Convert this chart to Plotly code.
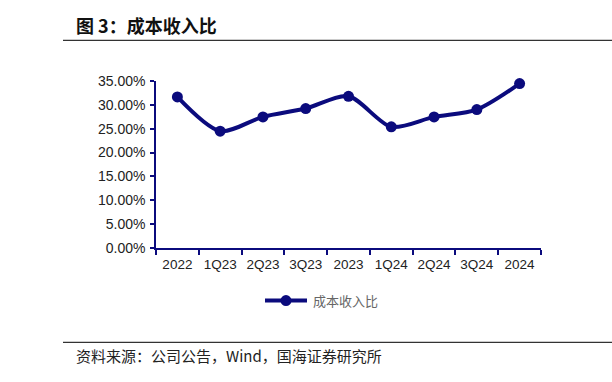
import plotly.graph_objects as go

categories = ["2022", "1Q23", "2Q23", "3Q23", "2023", "1Q24", "2Q24", "3Q24", "2024"]
cost_income_ratio = [31.66, 24.49, 27.48, 29.23, 31.80, 25.39, 27.48, 29.02, 34.45]
y_ticks = [0, 5, 10, 15, 20, 25, 30, 35]
y_tick_labels = [f"{v:.2f}%" for v in y_ticks]
series_name = "成本收入比"
title_text = "图 3：成本收入比"
source_text = "资料来源：公司公告，Wind，国海证券研究所"

NAVY = "#0b0b7d"
W, H = 612, 382
L, R, T, B = 156, 541, 80.7, 248.3
pw, ph = R - L, B - T


def px(x):
    return (x - L) / pw


def py(y):
    return (B - y) / ph


fig = go.Figure()
fig.add_trace(go.Scatter(
    x=categories, y=cost_income_ratio, name=series_name,
    mode="lines+markers",
    line=dict(color=NAVY, width=4, shape="spline", smoothing=0.8),
    marker=dict(color=NAVY, size=11),
    cliponaxis=False, showlegend=False,
))

# legend symbol (drawn manually to match the long legend line)
leg_y = 301
legend_shapes = [
    dict(type="line", xref="paper", yref="paper", x0=px(265), x1=px(307),
         y0=py(leg_y), y1=py(leg_y), line=dict(color=NAVY, width=4)),
    dict(type="circle", xref="paper", yref="paper", x0=px(280.5), x1=px(291.5),
         y0=py(leg_y + 5.5), y1=py(leg_y - 5.5), fillcolor=NAVY, line=dict(color=NAVY, width=0)),
]

fig.update_layout(
    width=W, height=H,
    margin=dict(l=L, r=W - R, t=T, b=H - B, autoexpand=False),
    paper_bgcolor="white", plot_bgcolor="white",
    font=dict(family="Liberation Sans, Arial, sans-serif", size=13, color="#222222"),
    showlegend=False,
    xaxis=dict(
        type="category", showgrid=False, showline=True, linecolor=NAVY, linewidth=1.5,
        ticks="outside", tickson="boundaries", ticklen=5, tickcolor=NAVY, tickwidth=1.5,
        tickangle=0, tickfont=dict(size=13.5, color="#222222"), range=[-0.5, 8.5],
        ticklabelstandoff=3, fixedrange=True,
    ),
    yaxis=dict(
        range=[0, 35], tickvals=y_ticks, ticktext=y_tick_labels, showgrid=False,
        showline=True, linecolor=NAVY, linewidth=1.5, ticks="outside", ticklen=4,
        tickcolor=NAVY, tickwidth=1.5, tickfont=dict(size=14, color="#222222"),
        ticklabelstandoff=2, zeroline=False, fixedrange=True,
    ),
    shapes=[
        dict(type="line", xref="paper", yref="paper", x0=px(63), x1=px(612),
             y0=py(40), y1=py(40), line=dict(color="#333333", width=1.2)),
        dict(type="line", xref="paper", yref="paper", x0=px(63), x1=px(612),
             y0=py(343), y1=py(343), line=dict(color="#333333", width=1.2)),
    ] + legend_shapes,
    annotations=[
        dict(text=f"<b>{title_text}</b>", xref="paper", yref="paper",
             x=px(74), y=py(25), xanchor="left", yanchor="middle", showarrow=False,
             font=dict(family="Noto Sans CJK SC", size=18, color="#111111")),
        dict(text=source_text, xref="paper", yref="paper",
             x=px(74), y=py(356), xanchor="left", yanchor="middle", showarrow=False,
             font=dict(family="Noto Sans CJK SC", size=15, color="#222222")),
        dict(text=series_name, xref="paper", yref="paper",
             x=px(311), y=py(leg_y), xanchor="left", yanchor="middle", showarrow=False,
             font=dict(family="Noto Sans CJK SC", size=13, color="#666666")),
    ],
)

fig.write_html("out.html", config={"displayModeBar": False},
               post_script="document.body.style.margin='0';")
